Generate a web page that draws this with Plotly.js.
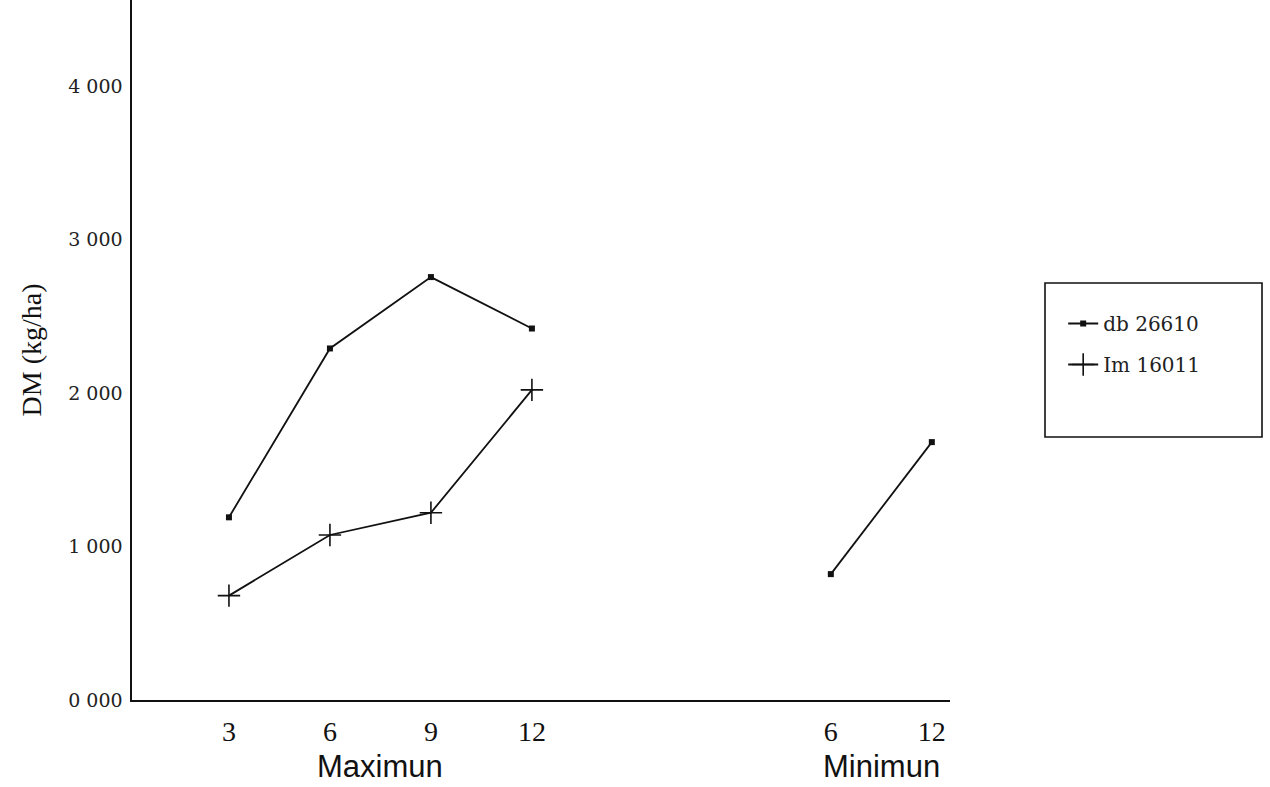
<!DOCTYPE html>
<html>
<head>
<meta charset="utf-8">
<script src="https://cdn.plot.ly/plotly-3.0.1.min.js"></script>
<style>html,body{margin:0;padding:0;background:#fff;}#chart{width:1270px;height:787px;}</style>
</head>
<body>
<div id="chart"></div>
<script>
// Data
const maxCats = ['3', '6', '9', '12'];
const minCats = ['6', '12'];
const groupLabels = ['Maximun', 'Minimun'];
const seriesNames = ['db 26610', 'Im 16011'];
const s1Max = [1190, 2290, 2755, 2420];
const s1Min = [820, 1680];
const s2Max = [680, 1075, 1220, 2020];
const yTickVals = [0, 1000, 2000, 3000, 4000];
const yTickText = ['0 000', '1 000', '2 000', '3 000', '4 000'];

// positions along the x axis (category slots, with a gap between the groups)
const groupGap = 2.96;
const maxPos = maxCats.map((c, i) => i + 1);
const minPos = minCats.map((c, i) => i + maxCats.length + groupGap);

const s1x = maxPos.concat([null], minPos);
const s1y = s1Max.concat([null], s1Min);

const traces = [
  {
    x: s1x, y: s1y, name: seriesNames[0], legendgroup: 'a', type: 'scatter', mode: 'lines+markers',
    connectgaps: false,
    line: {color: '#111', width: 1.8},
    marker: {symbol: 'square', size: 6, color: '#111'}
  },
  {
    x: maxPos, y: s2Max, name: seriesNames[1], legendgroup: 'b', type: 'scatter', mode: 'lines+markers',
    line: {color: '#111', width: 1.8},
    marker: {symbol: 'cross-thin', size: 16, color: '#111', line: {color: '#111', width: 1.6}}
  }
];

const L = 132, R = 950, T = 0, B = 700;
const W = 1270, H = 787;
const px = v => (v - L) / (R - L);
const py = v => (B - v) / (B - T);

const layout = {
  width: W, height: H,
  margin: {l: L, r: W - R, t: T, b: H - B},
  paper_bgcolor: '#fff', plot_bgcolor: '#fff',
  showlegend: true,
  font: {family: 'Liberation Serif', color: '#111'},
  xaxis: {
    range: [0.04, 8.14],
    tickmode: 'array', tickvals: maxPos.concat(minPos), ticktext: maxCats.concat(minCats),
    ticks: '', showgrid: false, zeroline: false,
    showline: true, linecolor: '#111', linewidth: 1.6,
    tickfont: {family: 'Liberation Serif', size: 28, color: '#111'},
    ticklabelstandoff: 6,
    fixedrange: true
  },
  yaxis: {
    range: [0, 4560],
    tickmode: 'array', tickvals: yTickVals, ticktext: yTickText,
    ticks: '', showgrid: false, zeroline: false,
    showline: true, linecolor: '#111', linewidth: 1.6,
    tickfont: {family: 'DejaVu Serif', size: 19, color: '#222'},
    ticklabelstandoff: 4,
    title: {text: 'DM (kg/ha)', font: {family: 'Liberation Serif', size: 28, color: '#111'}, standoff: 18},
    fixedrange: true
  },
  legend: {
    x: px(1100) - 0.045, y: py(304), xanchor: 'left', yanchor: 'top',
    bgcolor: 'rgba(0,0,0,0)', borderwidth: 0,
    font: {family: 'DejaVu Serif', size: 20, color: '#222'},
    itemwidth: 30, tracegroupgap: 12
  },
  shapes: [
    {type: 'rect', xref: 'paper', yref: 'paper', x0: px(1045), x1: px(1262), y0: py(437), y1: py(283),
     line: {color: '#111', width: 1.6}, fillcolor: 'rgba(0,0,0,0)'}
  ],
  annotations: [
    {x: (maxPos[0] + maxPos[maxPos.length - 1]) / 2, xref: 'x', y: py(766), yref: 'paper', text: groupLabels[0], showarrow: false,
     font: {family: 'Liberation Sans', size: 31, color: '#111'}, xanchor: 'center', yanchor: 'middle'},
    {x: (minPos[0] + minPos[minPos.length - 1]) / 2, xref: 'x', y: py(766), yref: 'paper', text: groupLabels[1], showarrow: false,
     font: {family: 'Liberation Sans', size: 31, color: '#111'}, xanchor: 'center', yanchor: 'middle'}
  ]
};

Plotly.newPlot('chart', traces, layout, {displayModeBar: false, staticPlot: true});
</script>
</body>
</html>
